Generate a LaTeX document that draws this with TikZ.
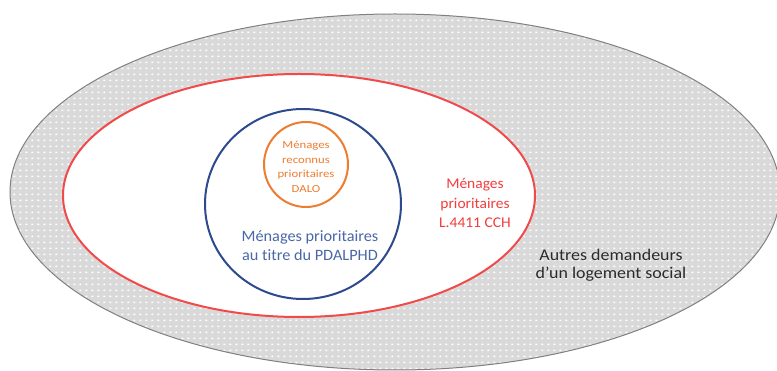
\documentclass[tikz,border=0pt]{standalone}
\usepackage{fontspec}
\setmainfont{Carlito}[Ligatures={NoCommon,NoContextual}]
\usetikzlibrary{patterns.meta}
\definecolor{outerfill}{HTML}{D9D9D9}
\definecolor{outerline}{HTML}{808080}
\definecolor{redline}{HTML}{F04A4A}
\definecolor{blueline}{HTML}{2E4A8E}
\definecolor{orangeline}{HTML}{ED7D31}
\definecolor{bluetext}{HTML}{4A67A8}
\definecolor{redtext}{HTML}{F03E3E}
\definecolor{darktext}{HTML}{2B2B2B}
\tikzdeclarepattern{
  name=wdots,
  type=uncolored,
  bounding box={(0pt,0pt) and (6pt,6pt)},
  tile size={(6pt,6pt)},
  code={\fill (1.5pt,2.2pt) rectangle (4pt,3.8pt);}
}
\tikzset{
  ring/.style={line width=2pt},
  lbl/.style={align=center, inner sep=0pt},
}
\begin{document}
\begin{tikzpicture}[x=1pt,y=-1pt]
\useasboundingbox (0,0) rectangle (777,371);
% outer ellipse
\fill[outerfill] (395,192) ellipse [x radius=385pt, y radius=178pt];
\fill[pattern=wdots, pattern color=white] (395,192) ellipse [x radius=385pt, y radius=178pt];
\draw[outerline, line width=1pt] (395,192) ellipse [x radius=385pt, y radius=178pt];
% red ellipse
\fill[white] (299,195.5) ellipse [x radius=236pt, y radius=121.5pt];
\draw[redline, ring] (299,195.5) ellipse [x radius=236pt, y radius=121.5pt];
% blue circle
\draw[blueline, ring] (303,204) ellipse [x radius=98pt, y radius=95pt];
% orange circle
\draw[orangeline, ring] (306,164.5) ellipse [x radius=42pt, y radius=42.5pt];
% texts
\node[lbl, text=orangeline, xscale=1.18, font=\fontsize{10.8}{14.7}\selectfont] (dalo) at (306,167) {Ménages\\reconnus\\prioritaires\\DALO};
\node[lbl, text=bluetext, xscale=1.03, font=\fontsize{15.8}{19}\selectfont] (pdalphd) at (310,246) {Ménages prioritaires\\au titre du PDALPHD};
\node[lbl, text=redtext, xscale=1.04, font=\fontsize{14.9}{19.5}\selectfont] (cch) at (475,203) {Ménages\\prioritaires\\L.4411 CCH};
\node[lbl, text=darktext, xscale=1.1, font=\fontsize{16.3}{18}\selectfont] (autres) at (611,265) {Autres demandeurs\\d’un logement social};
\end{tikzpicture}
\end{document}
